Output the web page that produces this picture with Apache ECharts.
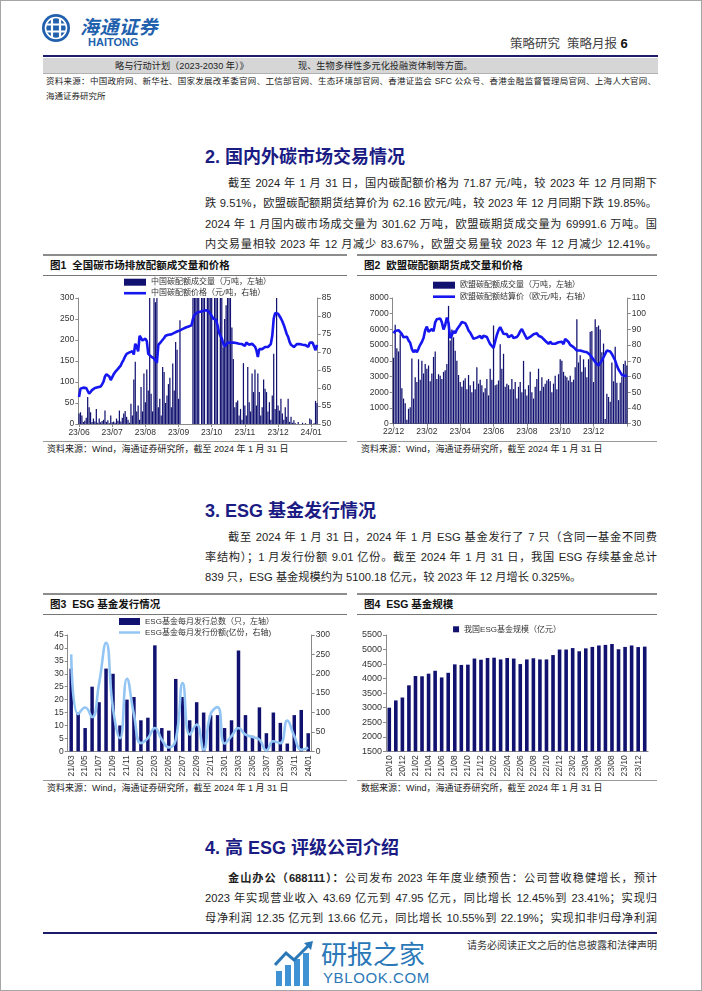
<!DOCTYPE html>
<html lang="zh-CN"><head><meta charset="utf-8"><title>策略月报</title>
<script src="https://cdn.jsdelivr.net/npm/echarts@6/dist/echarts.min.js"></script>
<style>
html,body{margin:0;padding:0;background:#fff;}
#page{position:relative;width:702px;height:991px;overflow:hidden;font-family:"Liberation Sans","Noto Sans CJK SC",sans-serif;color:#1e1e1e;}
.a{position:absolute;white-space:nowrap;}
.ln{position:absolute;}
.h{position:absolute;white-space:nowrap;font-size:18px;font-weight:700;color:#1b1b84;line-height:22px;left:205px;}
.p{position:absolute;font-size:11.2px;line-height:16px;width:452px;left:205px;text-align:justify;text-align-last:justify;text-justify:inter-character;}
.p.l{text-align-last:left;}
.ct{position:absolute;white-space:nowrap;font-size:10.5px;font-weight:700;line-height:14px;color:#111;}
.src{position:absolute;white-space:nowrap;font-size:9px;line-height:12px;color:#222;}
.chart{position:absolute;}
</style></head>
<body><div id="page">
<div class="ln" style="left:0;top:0;width:700px;height:989px;border:1px solid #a5a5a5;"></div>

<!-- header -->
<svg class="ln" style="left:42px;top:14px" width="28" height="28" viewBox="-14 -14 28 28">
  <circle r="14" fill="#2160ad"/>
  <circle r="10.5" fill="none" stroke="#fff" stroke-width="1.6"/>
  <path d="M-4,-9 V9 M4,-9 V9 M-9,-3.5 H9 M-9,3.5 H9" stroke="#fff" stroke-width="2.2" fill="none"/>
  <circle r="2" fill="#2160ad"/>
</svg>
<div class="a" style="left:80px;top:16px;font-size:19px;line-height:24px;font-weight:700;font-style:italic;color:#2160ad;letter-spacing:0.5px;">海通证券</div>
<div class="a" style="left:88px;top:36px;font-size:11px;line-height:12px;font-weight:700;color:#2160ad;">HAITONG</div>
<div class="a" style="left:510px;top:36px;font-size:12.5px;line-height:16px;color:#444;">策略研究&nbsp;&nbsp;策略月报 <b style="color:#111;font-size:13px;">6</b></div>
<div class="ln" style="left:43px;top:55px;width:615px;height:2px;background:#1c1c6a;"></div>
<div class="ln" style="left:43px;top:58px;width:615px;height:15px;background:#d6d6d6;border-bottom:1px solid #b0b0b0;"></div>
<div class="a" style="left:115px;top:59px;font-size:9.2px;line-height:14px;color:#222;">略与行动计划（2023-2030 年）》</div>
<div class="a" style="left:298px;top:59px;font-size:9.2px;line-height:14px;color:#222;">现、生物多样性多元化投融资体制等方面。</div>
<div class="a" style="left:46px;top:75px;width:610px;font-size:8.5px;line-height:12px;color:#222;text-align:justify;text-align-last:justify;white-space:normal;">资料来源：中国政府网、新华社、国家发展改革委官网、工信部官网、生态环境部官网、香港证监会 SFC 公众号、香港金融监督管理局官网、上海人大官网、</div>
<div class="a" style="left:46px;top:90px;font-size:8.5px;line-height:12px;color:#222;">海通证券研究所</div>

<!-- section 2 -->
<div class="h" style="top:146px;">2. 国内外碳市场交易情况</div>
<div class="p" style="top:175px;padding-left:23px;width:429px;">截至 2024 年 1 月 31 日，国内碳配额价格为 71.87 元/吨，较 2023 年 12 月同期下</div>
<div class="p" style="top:195px;">跌 9.51%，欧盟碳配额期货结算价为 62.16 欧元/吨，较 2023 年 12 月同期下跌 19.85%。</div>
<div class="p" style="top:216px;">2024 年 1 月国内碳市场成交量为 301.62 万吨，欧盟碳期货成交量为 69991.6 万吨。国</div>
<div class="p" style="top:236px;">内交易量相较 2023 年 12 月减少 83.67%，欧盟交易量较 2023 年 12 月减少 12.41%。</div>

<!-- chart 1/2 frames -->
<div class="ln" style="left:43px;top:254px;width:304px;height:1.5px;background:#8c8c8c;"></div>
<div class="ln" style="left:357px;top:254px;width:300px;height:1.5px;background:#8c8c8c;"></div>
<div class="ct" style="left:50px;top:258px;">图1&nbsp;&nbsp;全国碳市场排放配额成交量和价格</div>
<div class="ct" style="left:364px;top:258px;">图2&nbsp;&nbsp;欧盟碳配额期货成交量和价格</div>
<div class="ln" style="left:43px;top:274.5px;width:304px;height:1.2px;background:#777;"></div>
<div class="ln" style="left:357px;top:274.5px;width:300px;height:1.2px;background:#777;"></div>
<div id="c1" class="chart" style="left:43px;top:276px;width:304px;height:165px;"></div>
<div id="c2" class="chart" style="left:357px;top:276px;width:300px;height:165px;"></div>
<div class="ln" style="left:43px;top:441px;width:304px;height:1px;background:#999;"></div>
<div class="ln" style="left:357px;top:441px;width:300px;height:1px;background:#999;"></div>
<div class="src" style="left:47px;top:443px;">资料来源：Wind，海通证券研究所，截至 2024 年 1 月 31 日</div>
<div class="src" style="left:361px;top:443px;">资料来源：Wind，海通证券研究所，截至 2024 年 1 月 31 日</div>

<!-- section 3 -->
<div class="h" style="top:500px;">3. ESG 基金发行情况</div>
<div class="p" style="top:529px;padding-left:23px;width:429px;">截至 2024 年 1 月 31 日，2024 年 1 月 ESG 基金发行了 7 只（含同一基金不同费</div>
<div class="p" style="top:549px;">率结构）；1 月发行份额 9.01 亿份。截至 2024 年 1 月 31 日，我国 ESG 存续基金总计</div>
<div class="p l" style="top:569px;">839 只，ESG 基金规模约为 5100.18 亿元，较 2023 年 12 月增长 0.325%。</div>

<!-- chart 3/4 frames -->
<div class="ln" style="left:43px;top:593px;width:304px;height:1.5px;background:#8c8c8c;"></div>
<div class="ln" style="left:357px;top:593px;width:300px;height:1.5px;background:#8c8c8c;"></div>
<div class="ct" style="left:50px;top:597px;">图3&nbsp;&nbsp;ESG 基金发行情况</div>
<div class="ct" style="left:364px;top:597px;">图4&nbsp;&nbsp;ESG 基金规模</div>
<div class="ln" style="left:43px;top:613.5px;width:304px;height:1.2px;background:#777;"></div>
<div class="ln" style="left:357px;top:613.5px;width:300px;height:1.2px;background:#777;"></div>
<div id="c3" class="chart" style="left:43px;top:615px;width:304px;height:165px;"></div>
<div id="c4" class="chart" style="left:357px;top:615px;width:300px;height:165px;"></div>
<div class="ln" style="left:43px;top:780px;width:304px;height:1px;background:#999;"></div>
<div class="ln" style="left:357px;top:780px;width:300px;height:1px;background:#999;"></div>
<div class="src" style="left:47px;top:782px;">资料来源：Wind，海通证券研究所，截至 2024 年 1 月 31 日</div>
<div class="src" style="left:361px;top:782px;">数据来源：Wind，海通证券研究所，截至 2024 年 1 月 31 日</div>

<!-- section 4 -->
<div class="h" style="top:837px;">4. 高 ESG 评级公司介绍</div>
<div class="p" style="top:870px;padding-left:23px;width:429px;"><b>金山办公（688111）：</b>公司发布 2023 年年度业绩预告：公司营收稳健增长，预计</div>
<div class="p" style="top:890px;">2023 年实现营业收入 43.69 亿元到 47.95 亿元，同比增长 12.45%到 23.41%；实现归</div>
<div class="p" style="top:910px;">母净利润 12.35 亿元到 13.66 亿元，同比增长 10.55%到 22.19%；实现扣非归母净利润</div>

<!-- footer -->
<div class="ln" style="left:43px;top:932px;width:614px;height:2px;background:#1c1c6a;"></div>
<div class="a" style="right:45px;top:939px;font-size:10px;line-height:14px;color:#333;">请务必阅读正文之后的信息披露和法律声明</div>
<svg class="ln" style="left:274px;top:941px" width="42" height="46" viewBox="0 0 42 46">
  <rect x="2" y="30" width="6" height="15" fill="#3f93d4"/>
  <rect x="11" y="24" width="6" height="21" fill="#3f93d4"/>
  <rect x="20" y="18" width="6" height="27" fill="#3f93d4"/>
  <rect x="29" y="12" width="6" height="33" fill="#3f93d4"/>
  <polyline points="1,24 12,12 20,19 36,3" fill="none" stroke="#2b78b8" stroke-width="3"/>
  <polygon points="30,2 39,0 37,9" fill="#2b78b8"/>
</svg>
<div class="a" style="left:321px;top:940px;font-size:26px;line-height:30px;color:#2b78b8;">研报之家</div>
<div class="a" style="left:323px;top:969px;font-size:15px;line-height:17px;color:#2b78b8;letter-spacing:0.6px;">YBLOOK.COM</div>
</div>

<script>
// ---------- data ----------
// Figure 1: China carbon allowance (daily trading days, 2023/06 – 2024/01)
const xLabels1 = ['23/06','23/07','23/08','23/09','23/10','23/11','23/12','24/01'];
const vol1 = [25,28,20,5,8,15,64,40,28,5,
  13,6,36,3,13,4,7,10,32,5,
  9,2,20,4,6,3,13,8,32,6,
  15,25,31,17,10,3,48,20,106,148,
  30,44,10,88,30,120,52,130,80,350,
  72,30,350,290,350,40,60,20,136,124,
  50,68,95,110,40,144,80,195,177,60,
  247,0,0,0,0,0,0,0,0,350,
  350,350,350,350,0,350,350,350,0,350,
  350,350,350,0,350,350,350,0,350,350,
  183,250,283,350,300,350,230,155,40,52,
  56,20,36,10,145,44,20,136,52,30,
  120,76,130,44,120,76,20,40,106,84,
  76,30,52,10,68,167,36,350,44,32,
  60,25,10,40,17,60,5,17,3,9,
  2,0,5,0,0,3,0,2,0,0,
  13,10,0,2,55,50];
const price1 = [57.5,59.8,60.0,60.1,60.1,60.0,59.8,58.4,58.9,59.4,
  59.7,60.0,60.1,60.2,60.3,60.4,61.0,61.8,63.2,63.8,
  64.0,63.2,62.2,62.6,63.8,64.4,64.8,65.3,65.8,66.3,
  67.2,67.9,68.8,69.5,69.7,69.9,70.4,70.2,69.3,72.3,
  71.5,70.2,74.5,74.0,73.2,73.4,73.7,73.0,69.5,69.0,
  68.7,68.5,68.2,67.8,67.0,72.0,72.5,72.9,73.4,73.9,
  74.5,74.8,74.8,74.8,74.9,75.1,75.3,75.5,75.7,75.9,
  76.0,76.2,76.4,76.6,76.8,77.0,77.1,77.2,77.4,79.2,
  80.2,80.7,81.0,81.1,81.2,81.3,81.4,81.5,81.6,81.5,
  81.3,80.8,80.0,79.3,79.0,78.9,77.5,75.5,74.5,73.8,
  72.3,71.5,71.8,72.6,72.8,72.6,72.6,72.6,72.6,72.5,
  72.3,72.3,72.3,72.2,71.9,71.7,72.6,72.3,72.0,72.1,
  72.3,72.2,71.5,70.5,68.6,70.8,70.7,70.8,71.2,71.4,
  71.4,71.4,71.8,72.2,74.5,79.3,80.8,80.9,80.6,80.0,
  79.3,78.5,77.5,76.3,75.0,74.2,72.8,72.0,71.6,71.4,
  71.8,72.2,72.3,72.2,72.1,72.0,72.0,71.9,71.6,71.4,
  72.6,72.8,72.6,71.5,70.5,72.0];
const step1 = 23;

// Figure 2: EU carbon allowance futures (2022/12 – 2024/01)
const xLabels2 = ['22/12','23/02','23/04','23/06','23/08','23/10','23/12'];
const vol2 = [4200,6300,4800,4600,5700,2250,1600,1300,250,950,
  1050,4150,1600,2950,2650,4100,2800,4000,3200,3800,
  3500,3700,2700,3200,4250,4600,2850,3150,3050,2850,
  3300,3400,3800,7500,5300,6000,5500,4650,4000,3100,
  2650,2350,2750,2900,2200,3100,2450,2000,2700,2200,
  3600,2550,2800,2450,2000,2250,2850,1800,3500,2800,
  6250,2450,2500,2750,5050,3500,4450,2350,2550,2450,
  2200,2850,2200,2650,1600,2350,2650,2000,4000,2200,
  1800,2450,3300,2000,1600,2350,2850,3500,2100,2950,
  2350,2550,2750,2850,2700,2000,2550,3050,2200,3150,
  4100,4000,3300,3050,2950,2750,3050,2650,2800,3600,
  6650,3900,4350,3300,4100,3600,2950,4100,5850,5900,
  2650,6650,6150,6250,6000,4550,5100,300,1900,1700,
  1400,3900,2700,4900,2600,1500,2600,3000,3800,4000,
  3700];
const price2 = [87.5,89,90,89.5,90.2,87,85,84.5,85.3,83,
  81.5,77.5,75.5,76.8,75.5,77.8,80.2,82,84.5,89.5,
  91.8,88.5,89.4,90.2,88.8,94.5,96.5,95.6,97,94.5,
  90,92.8,97.5,94,84.5,86.5,89,87.5,90,89.5,
  93,94.7,95,94,92,89.3,88,87,84,83,
  84.8,84,85.8,84.2,86,87,85.2,82.8,80.6,79.5,
  78.3,82.5,86.5,89.5,91.5,92,87.2,86.5,87,85,
  84.5,86.4,84.5,84.4,85.2,86.6,88.8,90.3,89.6,86,
  84,83,85.2,86.2,87,86.2,87.6,86,85,85,
  84,82.8,81.8,80.8,82.2,80.9,81.8,80.9,80.2,81.8,
  80.9,82.2,80.6,84,84.8,82,80.2,79.7,78.7,78,
  76.6,75.5,76.6,75.9,75.9,75.1,75.5,74.4,73.8,72.3,
  71.3,69.2,68.1,67,68.7,70.2,72.3,74.4,76.6,77.2,
  75.9,74.4,72.3,70.2,67,64.5,62.8,61.1,61.7,60.3,
  60.7];
const step2 = 20;

// Figure 3: ESG fund issuance
const months3 = ['21/03','21/04','21/05','21/06','21/07','21/08','21/09','21/10','21/11','21/12',
  '22/01','22/02','22/03','22/04','22/05','22/06','22/07','22/08','22/09','22/10','22/11','22/12',
  '23/01','23/02','23/03','23/04','23/05','23/06','23/07','23/08','23/09','23/10','23/11','23/12','24/01'];
const count3 = [32,15,9,25,19,32,30,10,20,21,12,13,41,9,8,28,21,12,19,15,14,14,9,12,39,14,6,17,7,15,11,3,14,16,7];
const share3 = [250,96,113,88,175,280,110,34,187,95,21,34,60,30,10,30,176,43,69,4,96,114,20,39,60,43,37,30,2,26,21,79,39,4,9];

// Figure 4: ESG fund size
const months4 = ['20/10','20/11','20/12','21/01','21/02','21/03','21/04','21/05','21/06','21/07','21/08','21/09','21/10','21/11','21/12',
  '22/01','22/02','22/03','22/04','22/05','22/06','22/07','22/08','22/09','22/10','22/11','22/12',
  '23/01','23/02','23/03','23/04','23/05','23/06','23/07','23/08','23/09','23/10','23/11','23/12','24/01'];
const scale4 = [3000,3250,3350,3770,4090,4080,4170,4270,4040,4200,4490,4470,4480,4690,4650,
  4710,4720,4660,4710,4690,4500,4660,4700,4660,4660,4810,5000,
  5000,5050,4940,5040,5090,5140,5160,5190,5010,5090,5140,5085,5100];

// ---------- styles ----------
const FONT = '"Liberation Sans","Noto Sans CJK SC",sans-serif';
const AX = '#8a8a8a';
const NAVY = '#111170';
const LINE_ICON = 'path://M0,0L22,0L22,2.6L0,2.6Z';
function yAx(o, fs){
  return Object.assign({
    type:'value',
    axisLine:{show:true, lineStyle:{color:AX}},
    axisTick:{show:true, length:3, lineStyle:{color:AX}},
    splitLine:{show:false},
    axisLabel:{fontSize:fs||8.5, color:'#333', margin:4, fontFamily:FONT, formatter:(v)=>String(v)}
  }, o);
}
function legendTxt(){ return {fontSize:8, color:'#333', fontFamily:FONT}; }

// ---------- chart 1 ----------
const c1 = echarts.init(document.getElementById('c1'), null, {renderer:'canvas'});
const cat1 = vol1.map((_, i) => 'd' + i);
c1.setOption({
  animation:false,
  textStyle:{fontFamily:FONT},
  legend:{orient:'vertical', left:81, top:2.2, padding:0, itemWidth:22, itemHeight:7, itemGap:3, textStyle:legendTxt(),
    data:[{name:'中国碳配额成交量（万吨，左轴）', icon:'rect'}, {name:'中国碳配额价格（元/吨，右轴）', icon:LINE_ICON}]},
  grid:{left:35.3, right:29.3, top:22, bottom:17},
  xAxis:{type:'category', data:cat1, boundaryGap:true,
    axisLine:{lineStyle:{color:AX}},
    axisTick:{show:true, interval:(i)=>i%step1===0, alignWithLabel:true, length:3, lineStyle:{color:AX}},
    axisLabel:{interval:(i)=>i%step1===0, formatter:(v,i)=>xLabels1[i/step1]||'', fontSize:8.5, color:'#333', margin:4, fontFamily:FONT}},
  yAxis:[yAx({min:0, max:300, interval:50, position:'left'}), yAx({min:50, max:85, interval:5, position:'right'})],
  series:[
    {type:'bar', name:'中国碳配额成交量（万吨，左轴）', data:vol1, yAxisIndex:0, barCategoryGap:'15%', itemStyle:{color:NAVY}},
    {type:'line', name:'中国碳配额价格（元/吨，右轴）', data:price1, yAxisIndex:1, symbol:'none', lineStyle:{color:'#1616f0', width:2.6}, itemStyle:{color:'#1616f0'}}
  ]
});

// ---------- chart 2 ----------
const c2 = echarts.init(document.getElementById('c2'), null, {renderer:'canvas'});
const cat2 = vol2.map((_, i) => 'd' + i);
c2.setOption({
  animation:false,
  textStyle:{fontFamily:FONT},
  legend:{orient:'vertical', left:76, top:5.2, padding:0, itemWidth:22, itemHeight:7, itemGap:3.5, textStyle:legendTxt(),
    data:[{name:'欧盟碳配额成交量（万吨，左轴）', icon:'rect'}, {name:'欧盟碳配额结算价（欧元/吨，右轴）', icon:LINE_ICON}]},
  grid:{left:35.7, right:29.3, top:22, bottom:17.3},
  xAxis:{type:'category', data:cat2, boundaryGap:true,
    axisLine:{lineStyle:{color:AX}},
    axisTick:{show:true, interval:(i)=>i%step2===0, alignWithLabel:true, length:3, lineStyle:{color:AX}},
    axisLabel:{interval:(i)=>i%step2===0, formatter:(v,i)=>xLabels2[i/step2]||'', fontSize:8.5, color:'#333', margin:4, fontFamily:FONT}},
  yAxis:[yAx({min:0, max:8000, interval:1000, position:'left'}), yAx({min:30, max:110, interval:10, position:'right'})],
  series:[
    {type:'bar', name:'欧盟碳配额成交量（万吨，左轴）', data:vol2, yAxisIndex:0, barCategoryGap:'25%', itemStyle:{color:NAVY}},
    {type:'line', name:'欧盟碳配额结算价（欧元/吨，右轴）', data:price2, yAxisIndex:1, symbol:'none', lineStyle:{color:'#1616f0', width:2.6}, itemStyle:{color:'#1616f0'}}
  ]
});

// ---------- chart 3 ----------
const c3 = echarts.init(document.getElementById('c3'), null, {renderer:'canvas'});
c3.setOption({
  animation:false,
  textStyle:{fontFamily:FONT},
  legend:{orient:'vertical', left:76, top:2.5, padding:0, itemWidth:21, itemHeight:7, itemGap:3, textStyle:legendTxt(),
    data:[{name:'ESG基金每月发行总数（只，左轴）', icon:'rect'}, {name:'ESG基金每月发行份额(亿份，右轴)', icon:LINE_ICON}]},
  grid:{left:24.7, right:35.3, top:20, bottom:28.7},
  xAxis:{type:'category', data:months3, boundaryGap:true,
    axisLine:{lineStyle:{color:AX}}, axisTick:{show:false},
    axisLabel:{interval:1, rotate:90, fontSize:8.5, color:'#333', margin:4, fontFamily:FONT}},
  yAxis:[yAx({min:0, max:45, interval:5, position:'left'}), yAx({min:0, max:300, interval:50, position:'right'})],
  series:[
    {type:'bar', name:'ESG基金每月发行总数（只，左轴）', data:count3, yAxisIndex:0, barCategoryGap:'50%', itemStyle:{color:NAVY}},
    {type:'line', name:'ESG基金每月发行份额(亿份，右轴)', data:share3, yAxisIndex:1, symbol:'none', smooth:0.5, lineStyle:{color:'#92c5f4', width:2.6}, itemStyle:{color:'#92c5f4'}}
  ]
});

// ---------- chart 4 ----------
const c4 = echarts.init(document.getElementById('c4'), null, {renderer:'canvas'});
c4.setOption({
  animation:false,
  textStyle:{fontFamily:FONT},
  legend:{left:'center', top:10.3, padding:0, itemWidth:6, itemHeight:6, textStyle:legendTxt(),
    data:[{name:'我国ESG基金规模（亿元）', icon:'rect'}]},
  grid:{left:29, right:9, top:20, bottom:28.7},
  xAxis:{type:'category', data:months4, boundaryGap:true,
    axisLine:{lineStyle:{color:AX}}, axisTick:{show:false},
    axisLabel:{interval:1, rotate:90, fontSize:8.5, color:'#333', margin:4, fontFamily:FONT}},
  yAxis:[yAx({min:1500, max:5500, interval:500, position:'left'}, 9)],
  series:[
    {type:'bar', name:'我国ESG基金规模（亿元）', data:scale4, barCategoryGap:'45%', itemStyle:{color:NAVY}}
  ]
});
</script>
</body></html>
